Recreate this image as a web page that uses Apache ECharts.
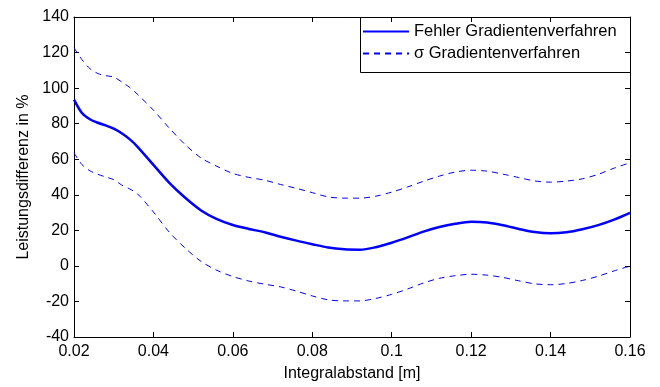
<!DOCTYPE html>
<html>
<head>
<meta charset="utf-8">
<script src="https://cdn.jsdelivr.net/npm/echarts@6/dist/echarts.min.js"></script>
<style>html,body{margin:0;padding:0;background:#fff;}#c{width:660px;height:387px;}</style>
</head>
<body>
<div id="c"></div>
<script>
var xValues = [0.020,0.022,0.024,0.026,0.028,0.030,0.032,0.034,0.036,0.040,0.044,0.048,0.052,0.056,0.060,0.064,0.068,0.072,0.076,0.080,0.084,0.088,0.092,0.096,0.100,0.104,0.108,0.112,0.116,0.120,0.124,0.128,0.132,0.136,0.140,0.144,0.148,0.152,0.156,0.160];
var fehler = [93.5,86.0,82.5,80.5,79.0,77.2,74.6,71.3,67.0,56.8,46.7,38.3,31.2,26.3,23.0,20.8,18.9,16.4,14.2,12.2,10.3,9.3,9.1,10.5,13.0,16.0,19.3,21.9,23.7,24.8,24.4,22.9,20.8,19.0,18.3,18.9,20.6,22.9,26.0,29.8];
var sigmaUpper = [122.7,116.0,111.0,108.2,107.0,106.2,103.5,100.4,96.5,87.6,77.5,68.2,60.7,56.0,52.0,49.8,48.2,45.8,43.6,41.2,38.8,38.1,38.1,39.2,41.5,44.4,47.6,50.5,52.8,53.8,53.3,51.6,49.7,47.8,47.1,47.7,49.0,51.5,55.0,58.0];
var sigmaLower = [63.6,57.0,53.5,51.5,50.0,48.5,45.5,43.3,40.5,30.3,18.9,10.0,2.5,-2.5,-6.0,-8.5,-10.3,-11.8,-14.2,-16.9,-19.1,-19.7,-19.7,-18.3,-16.0,-13.0,-9.6,-7.0,-5.5,-4.7,-5.2,-6.5,-8.4,-10.1,-10.6,-9.9,-8.2,-5.8,-2.8,-0.1];
var seriesNames = ['Fehler Gradientenverfahren', 'σ Gradientenverfahren'];
var xTitle = 'Integralabstand [m]';
var yTitle = 'Leistungsdifferenz in %';

function pairs(ys){ return xValues.map(function(x,i){ return [x, ys[i]]; }); }

var font = 'Liberation Sans, Arial, sans-serif';
var chart = echarts.init(document.getElementById('c'));
var axisCommon = {
  axisLine: {show: true, onZero: false, lineStyle: {color: '#000', width: 1}},
  axisTick: {show: true, inside: true, length: 5, lineStyle: {color: '#000'}},
  splitLine: {show: false}
};
chart.setOption({
  animation: false,
  backgroundColor: '#fff',
  grid: {left: 74, top: 17, width: 556, height: 325, containLabel: false},
  xAxis: [
    Object.assign({type: 'value', position: 'bottom', min: 0.02, max: 0.16, interval: 0.02,
      name: xTitle, nameLocation: 'middle', nameGap: 29,
      nameTextStyle: {fontFamily: font, fontSize: 16, color: '#000'},
      axisLabel: {fontFamily: font, fontSize: 16, color: '#000', margin: 7,
        formatter: function(v){ return String(+v.toFixed(2)); }}}, axisCommon),
    Object.assign({type: 'value', position: 'top', min: 0.02, max: 0.16, interval: 0.02,
      axisLabel: {show: false}}, axisCommon)
  ],
  yAxis: [
    Object.assign({type: 'value', position: 'left', min: -40, max: 140, interval: 20,
      name: yTitle, nameLocation: 'middle', nameGap: 42,
      nameTextStyle: {fontFamily: font, fontSize: 16, color: '#000'},
      axisLabel: {fontFamily: font, fontSize: 16, color: '#000', margin: 5}}, axisCommon),
    Object.assign({type: 'value', position: 'right', min: -40, max: 140, interval: 20,
      axisLabel: {show: false}}, axisCommon)
  ],
  legend: {
    left: 362, top: 23, orient: 'vertical', itemWidth: 46, itemHeight: 18, itemGap: 5,
    padding: 0,
    itemStyle: {opacity: 0},
    data: seriesNames,
    textStyle: {fontFamily: font, fontSize: 16.5, color: '#000', padding: [0,0,0,0]}
  },
  graphic: [{type: 'rect', shape: {x: 360.5, y: 17.5, width: 270, height: 55}, style: {fill: 'none', stroke: '#000', lineWidth: 1}, z: 100}],
  series: [
    {name: seriesNames[0], type: 'line', data: pairs(fehler), smooth: 0.3, showSymbol: false, symbol: 'none',
      lineStyle: {color: '#0000ff', width: 2.5}, itemStyle: {color: '#0000ff'}},
    {name: seriesNames[1], type: 'line', data: pairs(sigmaUpper), smooth: 0.3, showSymbol: false, symbol: 'none',
      lineStyle: {color: '#0000ff', width: 1, type: [6, 5]}, itemStyle: {color: '#0000ff'}},
    {name: seriesNames[1], type: 'line', data: pairs(sigmaLower), smooth: 0.3, showSymbol: false, symbol: 'none',
      lineStyle: {color: '#0000ff', width: 1, type: [6, 5]}, itemStyle: {color: '#0000ff'}}
  ]
});
</script>
</body>
</html>
